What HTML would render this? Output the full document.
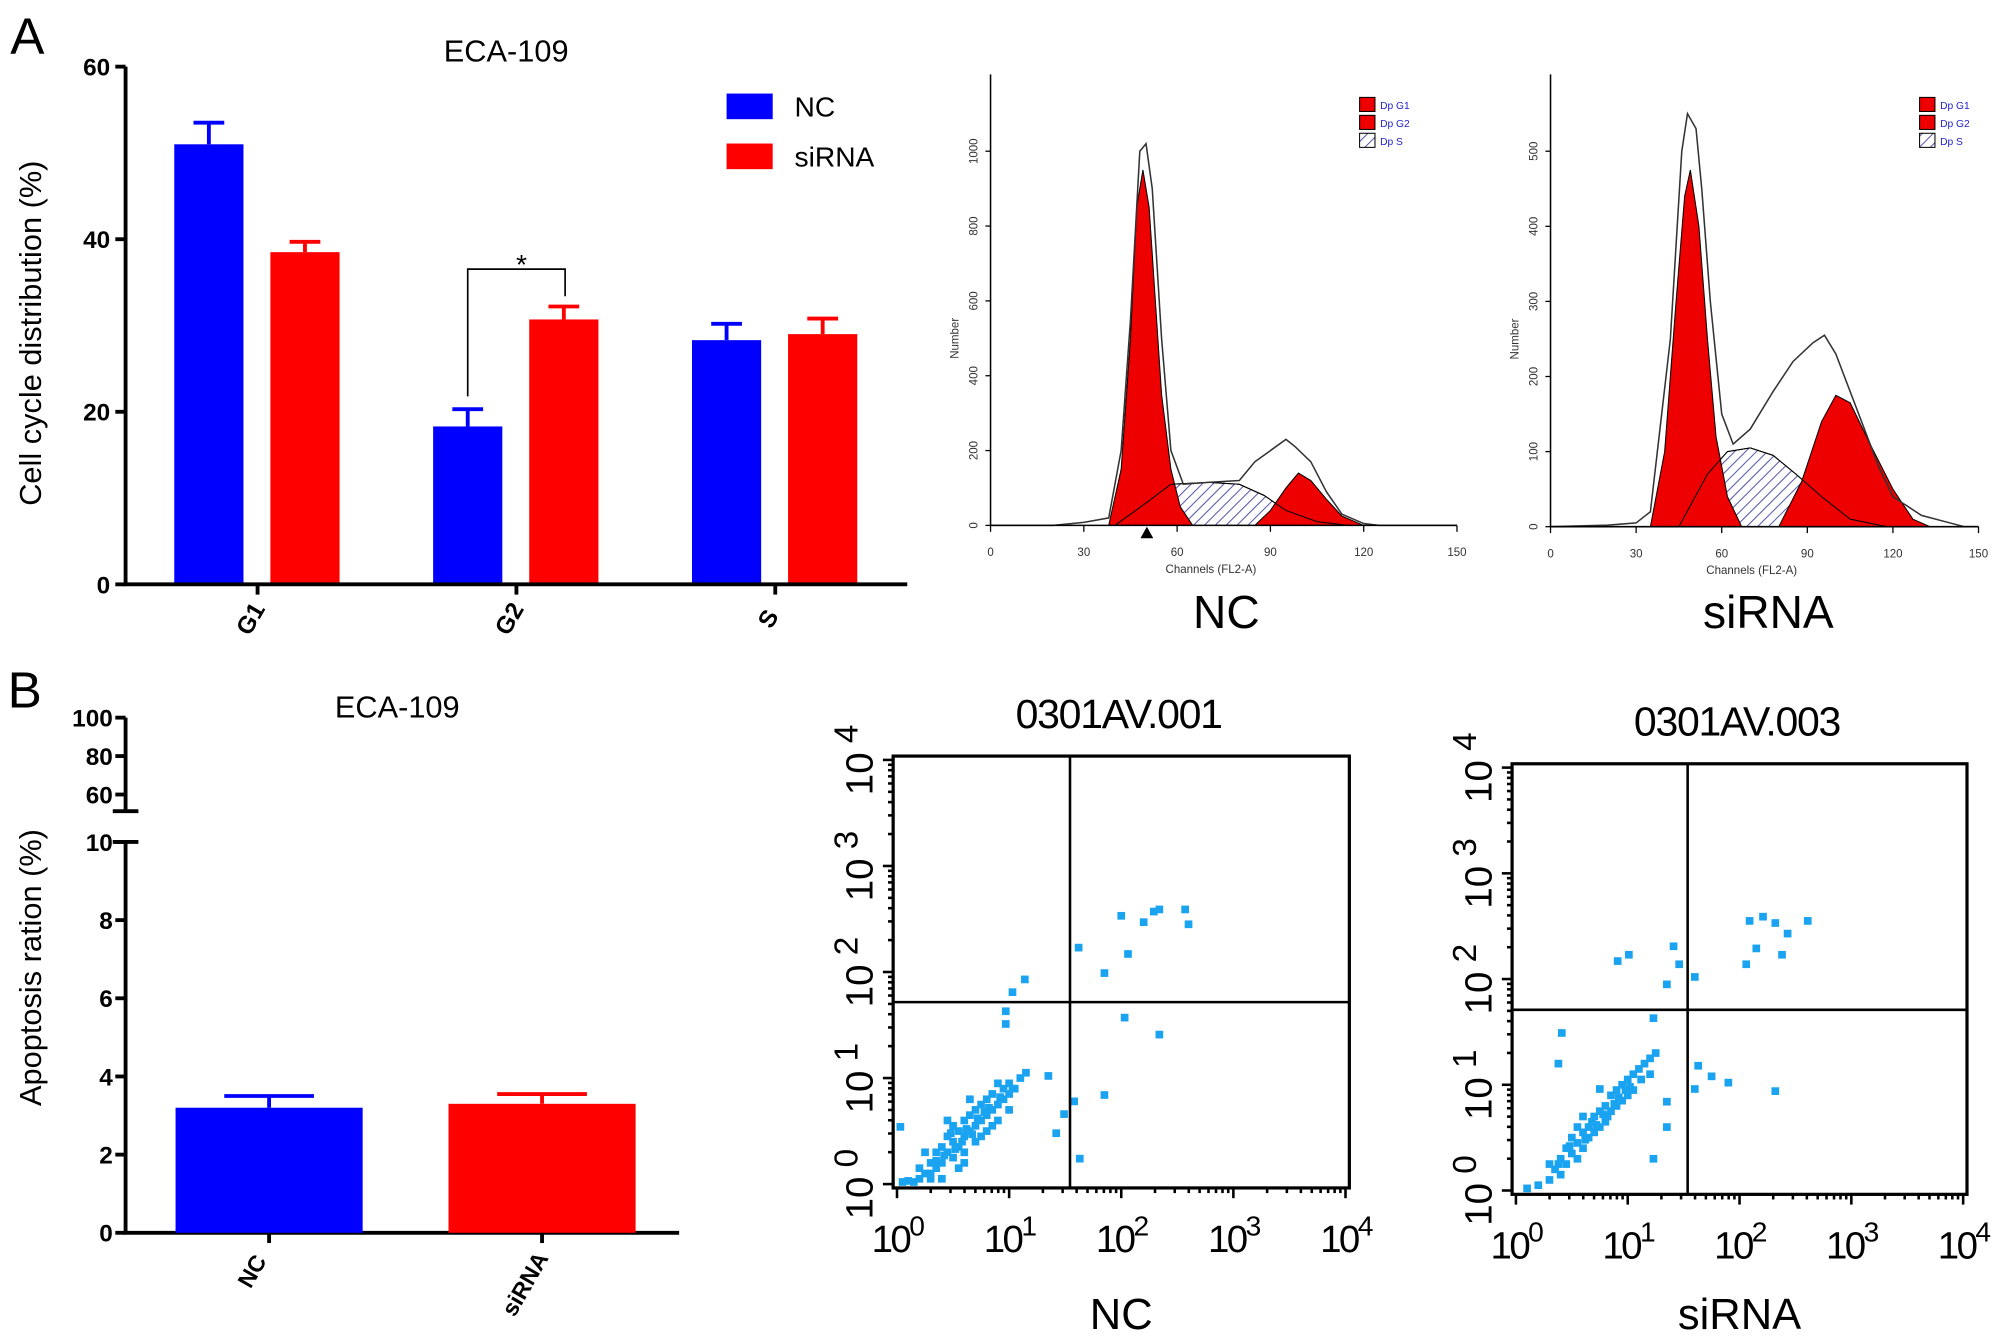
<!DOCTYPE html>
<html><head><meta charset="utf-8"><style>
html,body{margin:0;padding:0;background:#fff}
svg{display:block;font-family:"Liberation Sans",Arial,sans-serif}
</style></head><body>
<svg id="fig" width="2008" height="1343" viewBox="0 0 1567 1048" preserveAspectRatio="none" xmlns="http://www.w3.org/2000/svg">
<defs>
<pattern id="hatch" width="6" height="6" patternUnits="userSpaceOnUse" patternTransform="rotate(45)"><rect width="6" height="6" fill="#fff"/><line x1="0" y1="0" x2="0" y2="6" stroke="#5555aa" stroke-width="1.6"/></pattern>
</defs>
<text x="8" y="42" font-size="40">A</text>
<text x="6" y="552" font-size="40">B</text>
<text x="395" y="48" font-size="24" text-anchor="middle">ECA-109</text>
<text x="310" y="560" font-size="24" text-anchor="middle">ECA-109</text>
<text transform="translate(32,260) rotate(-90)" font-size="24" text-anchor="middle">Cell cycle distribution (%)</text>
<text transform="translate(32,755) rotate(-90)" font-size="24" text-anchor="middle">Apoptosis ration (%)</text>
<g id="g"></g>
</svg>
<script>
// ---- Panel A bar chart data ----
const cycleCats = ["G1","G2","S"];
const cycleNC = [51, 18.3, 28.3];
const cycleSi = [38.5, 30.7, 29];
const cycleNCerr = [2.5, 2.0, 1.9];
const cycleSiErr = [1.2, 1.5, 1.8];
const cycleTicks = [0,20,40,60];
// ---- Panel B bar chart data ----
const apoCats = ["NC","siRNA"];
const apoVals = [3.2, 3.3];
const apoErr = [0.3, 0.25];
const apoTicksLow = [0,2,4,6,8,10];
const apoTicksHigh = [60,80,100];
// ---- Histogram data (channel, count) ----
const ncG1 = [[38,0],[42,150],[45,500],[47,850],[49,950],[51,850],[53,600],[55,350],[58,150],[61,50],[65,0]];
const ncS = [[40,0],[50,60],[58,110],[70,115],[80,110],[88,80],[95,40],[105,10],[115,0]];
const ncG2 = [[85,0],[90,40],[95,100],[99,140],[103,120],[108,70],[113,25],[120,0]];
const ncOut = [[0,0],[20,0],[30,8],[38,20],[42,200],[45,550],[48,1000],[50,1020],[52,900],[55,500],[58,200],[62,110],[70,115],[80,120],[85,170],[90,200],[95,230],[98,210],[103,170],[108,90],[113,30],[120,5],[125,0],[150,0]];
const siG1 = [[35,0],[40,100],[44,300],[47,440],[49,475],[52,400],[55,250],[58,120],[62,40],[67,0]];
const siS = [[45,0],[55,70],[62,100],[70,105],[78,95],[86,70],[95,40],[105,10],[118,0]];
const siG2 = [[80,0],[88,60],[95,140],[100,175],[105,165],[112,110],[120,50],[127,10],[133,0]];
const siOut = [[0,0],[20,2],[30,5],[35,20],[42,250],[46,500],[48,550],[51,530],[53,450],[56,300],[60,150],[64,110],[70,130],[78,180],[85,220],[92,245],[96,255],[100,230],[105,180],[110,130],[115,80],[120,40],[130,15],[140,5],[145,0],[150,0]];
const ncHistTicksY = [0,200,400,600,800,1000];
const siHistTicksY = [0,100,200,300,400,500];
const histTicksX = [0,30,60,90,120,150];
// ---- Scatter data (log10 x, log10 y) ----
const ncDots = [[0.05,0.02],[0.1,0.03],[0.15,0.02],[0.2,0.05],[0.25,0.1],[0.3,0.2],[0.3,0.1],[0.35,0.15],[0.35,0.3],[0.4,0.2],[0.4,0.35],[0.45,0.3],[0.45,0.45],[0.5,0.25],[0.5,0.4],[0.5,0.55],[0.55,0.35],[0.55,0.5],[0.6,0.45],[0.6,0.6],[0.6,0.3],[0.65,0.5],[0.65,0.65],[0.7,0.55],[0.7,0.7],[0.7,0.4],[0.75,0.6],[0.75,0.75],[0.8,0.65],[0.8,0.5],[0.8,0.8],[0.85,0.7],[0.85,0.85],[0.9,0.75],[0.9,0.6],[0.95,0.8],[0.95,0.9],[1.0,0.85],[1.0,0.95],[1.05,0.9],[1.1,1.0],[1.15,1.05],[0.4,0.05],[0.55,0.15],[0.25,0.3],[0.45,0.6],[0.65,0.8],[0.75,0.45],[0.85,0.55],[1.0,0.7],[0.2,0.15],[0.3,0.05],[0.6,0.2],[0.9,0.95],[0.35,0.22],[0.42,0.27],[0.52,0.33],[0.58,0.4],[0.67,0.47],[0.72,0.62],[0.82,0.72],[0.92,0.82],[0.48,0.48],[0.62,0.52],[0.78,0.68],
[2.0,2.53],[2.29,2.57],[2.34,2.59],[2.57,2.59],[2.6,2.45],[2.2,2.47],[2.06,2.17],[1.85,1.99],[1.62,2.23],[2.03,1.57],[2.34,1.41],[1.14,1.93],[1.03,1.81],[0.97,1.63],[0.97,1.51],[1.35,1.02],[1.58,0.78],[1.85,0.84],[1.63,0.24],[1.49,0.66],[1.42,0.48],[0.03,0.54],[1.03,0.9]];
const siDots = [[0.1,0.02],[0.2,0.05],[0.3,0.1],[0.35,0.2],[0.4,0.15],[0.4,0.3],[0.45,0.25],[0.45,0.4],[0.5,0.35],[0.5,0.5],[0.55,0.45],[0.55,0.3],[0.6,0.55],[0.6,0.4],[0.65,0.6],[0.65,0.5],[0.7,0.7],[0.7,0.55],[0.75,0.75],[0.75,0.6],[0.8,0.8],[0.8,0.65],[0.85,0.9],[0.85,0.75],[0.9,0.95],[0.9,0.8],[0.95,1.0],[0.95,0.85],[1.0,1.05],[1.0,0.9],[1.05,1.1],[1.05,0.95],[1.1,1.15],[1.15,1.2],[1.2,1.25],[1.25,1.3],[0.55,0.6],[0.62,0.48],[0.72,0.62],[0.82,0.7],[0.92,0.88],[1.02,0.98],[0.48,0.42],[0.38,0.25],[0.68,0.65],[0.78,0.72],[0.88,0.82],[0.98,0.95],[1.12,1.05],[0.3,0.25],[0.6,0.7],[1.2,1.1],
[2.09,2.55],[2.21,2.59],[2.32,2.53],[2.43,2.43],[2.61,2.55],[2.15,2.29],[2.38,2.23],[2.06,2.14],[1.01,2.23],[0.91,2.17],[1.41,2.31],[1.46,2.14],[1.35,1.95],[1.6,2.02],[1.23,1.63],[1.63,1.18],[1.75,1.08],[1.9,1.02],[2.32,0.94],[1.6,0.96],[1.35,0.84],[0.41,1.49],[0.38,1.2],[0.75,0.96],[1.35,0.6],[1.23,0.3]];
const logTicks = [0,1,2,3,4];

const NS="http://www.w3.org/2000/svg";
const root=document.getElementById('g');
function el(tag,attrs,parent){const e=document.createElementNS(NS,tag);for(const k in attrs)e.setAttribute(k,attrs[k]);(parent||root).appendChild(e);return e;}

// ===== Panel A bars =====
const yA=v=>456-v*(404/60);
const groupX=[136,338,540];
cycleTicks.forEach(t=>{
  const tk=el('line',{x1:90,x2:98,y1:yA(t),y2:yA(t),stroke:'#000','stroke-width':3});
  
  
  const tl=el('text',{x:86,y:yA(t)+7,'font-size':19,'font-weight':'bold','text-anchor':'end'});tl.textContent=t;
  
  
});
cycleCats.forEach((c,i)=>{
  const x1=groupX[i],x2=groupX[i]+75;
  [[x1,cycleNC[i],cycleNCerr[i],'#0000ff','nc'],[x2,cycleSi[i],cycleSiErr[i],'#ff0000','sirna']].forEach(([x,v,e,col,s])=>{
    const eb=el('line',{x1:x+27,x2:x+27,y1:yA(v),y2:yA(v+e),stroke:col,'stroke-width':3});
    
    
    const ec=el('line',{x1:x+15,x2:x+39,y1:yA(v+e),y2:yA(v+e),stroke:col,'stroke-width':3});
    
    
    const b=el('rect',{x:x,y:yA(v),width:54,height:yA(0)-yA(v),fill:col});
    
    
  });
  const tk=el('line',{x1:x1+65,x2:x1+65,y1:456,y2:464,stroke:'#000','stroke-width':3});
  
  
  const lb=el('text',{transform:`translate(${x1+65},${486}) rotate(-60)`,'font-size':19,'font-weight':'bold','text-anchor':'middle'});lb.textContent=c;
  
  
});
let ax=el('path',{d:'M98,52 V456 H708',fill:'none',stroke:'#000','stroke-width':3});


let br=el('path',{d:`M365,${yA(cycleNC[1]+cycleNCerr[1])-10} V210 H441 V${yA(cycleSi[1]+cycleSiErr[1])-8}`,fill:'none',stroke:'#000','stroke-width':1.3});


let st=el('text',{x:407,y:214,'font-size':22,'text-anchor':'middle'});st.textContent='*';


[['NC','#0000ff',73],['siRNA','#ff0000',112]].forEach(([n,c,y])=>{
  const r=el('rect',{x:567,y:y,width:36,height:20,fill:c});
  
  
  const t=el('text',{x:620,y:y+18,'font-size':22});t.textContent=n;
  
  
});

// ===== Panel B bars =====
const yB=v=>v<=10?962-v*30.5:620-(v-60)*1.5;
apoTicksLow.concat(apoTicksHigh).forEach(t=>{
  const tk=el('line',{x1:90,x2:98,y1:yB(t),y2:yB(t),stroke:'#000','stroke-width':3});
  
  
  const tl=el('text',{x:88,y:yB(t)+7,'font-size':19,'font-weight':'bold','text-anchor':'end'});tl.textContent=t;
  
  
});
ax=el('path',{d:`M98,${yB(100)} V633 M98,657 V962 H530 M88,633 H108 M88,657 H108`,fill:'none',stroke:'#000','stroke-width':3});


const apoX=[137,350],apoCol=['#0000ff','#ff0000'];
apoCats.forEach((c,i)=>{
  const x=apoX[i],v=apoVals[i],e=apoErr[i];
  const eb=el('path',{d:`M${x+73},${yB(v)} V${yB(v+e)} M${x+38},${yB(v+e)} H${x+108}`,stroke:apoCol[i],'stroke-width':3,fill:'none'});
  
  
  const b=el('rect',{x:x,y:yB(v),width:146,height:962-yB(v),fill:apoCol[i]});
  
  
  const tk=el('line',{x1:x+73,x2:x+73,y1:962,y2:970,stroke:'#000','stroke-width':3});
  
  
  const lb=el('text',{transform:`translate(${x+65},${c==='NC'?995:1005}) rotate(-60)`,'font-size':18,'font-weight':'bold','text-anchor':'middle'});lb.textContent=c;
  
  
});

// ===== Histograms =====
function hist(name,x0,x1,y0,yTop,yMax,G1,S,G2,OUT,yt,big,bigX){
  const g=el('g',{});
  
  
  const X=c=>x0+c*(x1-x0)/150, Y=v=>y0-v*(y0-yTop)/yMax;
  const pth=a=>'M'+a.map(p=>X(p[0])+','+Y(p[1])).join(' L');
  const s=el('path',{d:pth(S)+'Z',fill:'url(#hatch)',stroke:'#000','stroke-width':0.8},g);
  
  
  const a=el('path',{d:pth(G1)+'Z',fill:'#ee0000',stroke:'#000','stroke-width':0.8},g);
  
  
  const b=el('path',{d:pth(G2)+'Z',fill:'#ee0000',stroke:'#000','stroke-width':0.8},g);
  
  
  const s2=el('path',{d:pth(S),fill:'none',stroke:'#000','stroke-width':0.8},g);
  
  
  const o=el('path',{d:pth(OUT),fill:'none',stroke:'#333','stroke-width':1.2},g);
  
  
  const axs=el('path',{d:`M${x0},${yTop-60} V${y0} H${x1}`,fill:'none',stroke:'#000','stroke-width':1.2},g);
  
  
  yt.forEach(t=>{
    const tk=el('line',{x1:x0-4,x2:x0,y1:Y(t),y2:Y(t),stroke:'#000'},g);
    
    
    const tl=el('text',{transform:`translate(${x0-10},${Y(t)}) rotate(-90)`,'font-size':9,'text-anchor':'middle',fill:'#333'},g);tl.textContent=t;
    
    
  });
  histTicksX.forEach(t=>{
    const tk=el('line',{x1:X(t),x2:X(t),y1:y0,y2:y0+5,stroke:'#000'},g);
    
    
    const tl=el('text',{x:X(t),y:y0+24,'font-size':9,'text-anchor':'middle',fill:'#333'},g);tl.textContent=t;
    
    
  });
  const xt=el('text',{x:(x0+x1)/2-10,y:y0+37,'font-size':9,'text-anchor':'middle',fill:'#333'},g);xt.textContent='Channels (FL2-A)';
  
  
  const yl=el('text',{transform:`translate(${x0-25},${(y0+yTop)/2}) rotate(-90)`,'font-size':9,'text-anchor':'middle',fill:'#333'},g);yl.textContent='Number';
  
  
  [['Dp G1','#ee0000'],['Dp G2','#ee0000'],['Dp S','url(#hatch)']].forEach(([n,c],i)=>{
    const r=el('rect',{x:x0+288,y:yTop-42+i*14,width:12,height:11,fill:c,stroke:'#000','stroke-width':0.8},g);
    
    
    const t=el('text',{x:x0+304,y:yTop-33+i*14,'font-size':8,fill:'#2222cc'},g);t.textContent=n;
    
    
  });
  const bl=el('text',{x:bigX,y:490,'font-size':36,'text-anchor':'middle'},g);bl.textContent=big;
  
  
}
hist('nc',773,1137,410,118,1000,ncG1,ncS,ncG2,ncOut,ncHistTicksY,'NC',957);
hist('sirna',1210,1544,411,118,500,siG1,siS,siG2,siOut,siHistTicksY,'siRNA',1380);
let tri=el('path',{d:'M890,420 L895,411 L900,420 Z',fill:'#000'});



// ===== Scatter plots =====
function scatter(name,bx0,by0,bx1,by1,qx,qy,dots,title,cap){
  const g=el('g',{});
  
  
  const X=v=>bx0+3+v*(bx1-bx0-6)/4, Y=v=>by1-3-v*(by1-by0-6)/4;
  dots.forEach(d=>{
    const r=el('rect',{x:X(d[0])-3,y:Y(d[1])-3,width:6,height:6,fill:'#1aa3f0'},g);
    
    
  });
  const bx=el('rect',{x:bx0,y:by0,width:bx1-bx0,height:by1-by0,fill:'none',stroke:'#000','stroke-width':2.5},g);
  
  
  const q=el('path',{d:`M${qx},${by0} V${by1} M${bx0},${qy} H${bx1}`,stroke:'#000','stroke-width':2},g);
  
  
  logTicks.forEach(t=>{
    for(let m=1;m<10;m++){
      if(t===4&&m>1)break;
      const f=t+Math.log10(m), L=m===1?8:4;
      const tx=el('line',{x1:X(f),x2:X(f),y1:by1,y2:by1+L,stroke:'#000','stroke-width':2},g);
      
      
      const ty=el('line',{x1:bx0-L,x2:bx0,y1:Y(f),y2:Y(f),stroke:'#000','stroke-width':2},g);
      
      
    }
    const xl=el('text',{x:X(t),y:by1+50,'font-size':30,'text-anchor':'middle','letter-spacing':-2},g);
    xl.innerHTML='10<tspan dy="-13" font-size="22">'+t+'</tspan>';
    
    
    const yl=el('text',{transform:`translate(${bx0-16},${Y(t)}) rotate(-90)`,'font-size':30,'text-anchor':'middle'},g);
    yl.innerHTML='10<tspan dy="-12" font-size="26"> '+t+'</tspan>';
    
    
  });
  const tt=el('text',{x:(bx0+bx1)/2-2,y:by0-22,'font-size':32,'text-anchor':'middle','letter-spacing':-1},g);tt.textContent=title;
  
  
  const cp=el('text',{x:(bx0+bx1)/2,y:1037,'font-size':34,'text-anchor':'middle'},g);cp.textContent=cap;
  
  
}
scatter('nc',697,590,1053,927,835,782,ncDots,'0301AV.001','NC');
scatter('sirna',1180,596,1535,932,1317,788,siDots,'0301AV.003','siRNA');
</script>
</body></html>
